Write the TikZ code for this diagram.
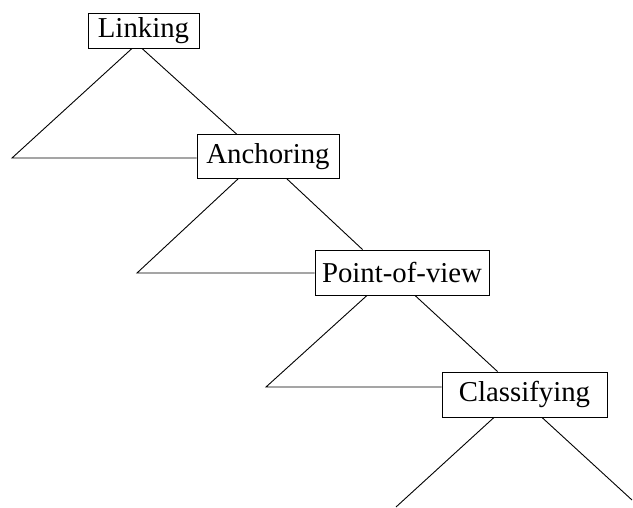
\documentclass[tikz,border=0pt]{standalone}
\usepackage{fontspec}
\setmainfont{Liberation Serif}
\begin{document}
\begin{tikzpicture}[x=1pt,y=-1pt,
  box/.style={draw, line width=0.9pt, inner sep=0pt, font=\fontsize{28.8}{34}\selectfont, anchor=center},
  conn/.style={line width=0.9pt}]
\useasboundingbox (0,0) rectangle (633,507);
\node[box, minimum width=111pt, minimum height=35pt] (lnk) at (143.5,30.5) {Linking};
\node[box, minimum width=142pt, minimum height=44pt] (anc) at (268,156.5) {Anchoring};
\node[box, minimum width=174pt, minimum height=45pt] (pov) at (402,272.5) {Point-of-view};
\node[box, minimum width=165pt, minimum height=45pt] (cls) at (524.5,394.5) {Classifying};
\coordinate (l1) at (12,158);
\coordinate (l2) at (137,273);
\coordinate (l3) at (266,387);
\coordinate (l4) at (396,507);
\coordinate (r4) at (632,500);
% Linking
\draw[conn] ([xshift=-11.5pt]lnk.south) -- (l1) -- (l1 -| anc.west);
\draw[conn] ([xshift=-1.5pt]lnk.south) -- ([xshift=40pt]anc.north west);
% Anchoring
\draw[conn] ([xshift=-30pt]anc.south) -- (l2) -- (l2 -| pov.west);
\draw[conn] ([xshift=19pt]anc.south) -- ([xshift=48pt]pov.north west);
% Point-of-view
\draw[conn] ([xshift=-35pt]pov.south) -- (l3) -- (l3 -| cls.west);
\draw[conn] ([xshift=13pt]pov.south) -- ([xshift=56pt]cls.north west);
% Classifying
\draw[conn] ([xshift=-30.5pt]cls.south) -- (l4);
\draw[conn] ([xshift=17.5pt]cls.south) -- (r4);
\end{tikzpicture}
\end{document}
